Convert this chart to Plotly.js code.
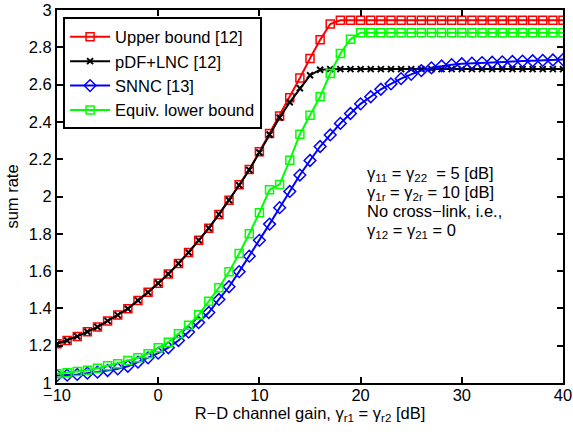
<!DOCTYPE html>
<html>
<head>
<meta charset="utf-8">
<script src="https://cdn.plot.ly/plotly-3.0.1.min.js"></script>
<style>html,body{margin:0;padding:0;background:#fff;}#chart{width:573px;height:432px;}</style>
</head>
<body>
<div id="chart"></div>
<script>
const gain = [-10,-9,-8,-7,-6,-5,-4,-3,-2,-1,0,1,2,3,4,5,6,7,8,9,10,11,12,13,14,15,16,17,18,19,20,21,22,23,24,25,26,27,28,29,30,31,32,33,34,35,36,37,38,39,40];

const upperBound = [1.21,1.228,1.25,1.275,1.30,1.333,1.364,1.398,1.443,1.486,1.535,1.584,1.641,1.70,1.765,1.83,1.904,1.98,2.063,2.145,2.24,2.338,2.432,2.53,2.635,2.74,2.84,2.925,2.945,2.945,2.945,2.945,2.945,2.945,2.945,2.945,2.945,2.945,2.945,2.945,2.945,2.945,2.945,2.945,2.945,2.945,2.945,2.945,2.945,2.945,2.945];

const pdfLnc = [1.21,1.228,1.25,1.275,1.30,1.333,1.364,1.398,1.443,1.486,1.535,1.584,1.641,1.70,1.765,1.83,1.904,1.98,2.06,2.142,2.236,2.332,2.423,2.505,2.58,2.65,2.68,2.683,2.683,2.683,2.683,2.683,2.683,2.683,2.683,2.683,2.683,2.683,2.683,2.683,2.683,2.683,2.683,2.683,2.683,2.683,2.683,2.683,2.683,2.683,2.683];

const snnc = [1.04,1.042,1.046,1.053,1.058,1.067,1.076,1.09,1.112,1.135,1.16,1.189,1.228,1.273,1.324,1.378,1.448,1.516,1.597,1.68,1.765,1.852,1.94,2.027,2.115,2.193,2.268,2.33,2.392,2.445,2.497,2.535,2.575,2.604,2.632,2.655,2.675,2.69,2.70,2.707,2.712,2.715,2.718,2.72,2.722,2.724,2.726,2.728,2.73,2.732,2.734];

const lowerBound = [1.049,1.055,1.062,1.068,1.079,1.092,1.103,1.12,1.135,1.157,1.189,1.219,1.264,1.309,1.366,1.438,1.511,1.597,1.694,1.80,1.913,2.036,2.065,2.195,2.334,2.436,2.535,2.66,2.767,2.843,2.878,2.878,2.878,2.878,2.878,2.878,2.878,2.878,2.878,2.878,2.878,2.878,2.878,2.878,2.878,2.878,2.878,2.878,2.878,2.878,2.878];

const seriesNames = ['Upper bound [12]','pDF+LNC [12]','SNNC [13]','Equiv. lower bound'];
const yTicks = [1,1.2,1.4,1.6,1.8,2,2.2,2.4,2.6,2.8,3];
const xTicks = [-10,0,10,20,30,40];

const FONT = 'Liberation Sans, Arial, Helvetica, sans-serif';
const FS = 16.5;

const traces = [
  {x: gain, y: upperBound, name: seriesNames[0], mode: 'lines+markers',
   line: {color: '#ff0000', width: 2},
   marker: {symbol: 'square-open', size: 8, color: '#ff0000', line: {width: 1.5}}},
  {x: gain, y: pdfLnc, name: seriesNames[1], mode: 'lines+markers',
   line: {color: '#000000', width: 2},
   marker: {symbol: 'x-thin-open', size: 6, color: '#000000', line: {width: 2, color: '#000000'}}},
  {x: gain, y: snnc, name: seriesNames[2], mode: 'lines+markers',
   line: {color: '#0000ff', width: 2},
   marker: {symbol: 'diamond-open', size: 9, color: '#0000ff', line: {width: 1.5}}},
  {x: gain, y: lowerBound, name: seriesNames[3], mode: 'lines+markers',
   line: {color: '#00ff00', width: 2},
   marker: {symbol: 'square-open', size: 8, color: '#00ff00', line: {width: 1.5}}}
];

const annFont = {family: FONT, size: FS, color: '#000'};
const ax = (365-57)/506;
const layout = {
  width: 573, height: 432,
  margin: {l: 57, r: 10, t: 10, b: 49, pad: 0},
  paper_bgcolor: '#fff', plot_bgcolor: '#fff',
  font: {family: FONT, size: FS, color: '#000'},
  showlegend: true,
  legend: {x: 0.012, y: 0.98, xanchor: 'left', yanchor: 'top',
           bgcolor: '#fff', bordercolor: '#000', borderwidth: 2,
           font: {family: FONT, size: FS, color: '#000'},
           tracegroupgap: 0, itemwidth: 40},
  xaxis: {range: [-10, 40], tickvals: xTicks, showgrid: false, zeroline: false,
          showline: true, linecolor: '#000', linewidth: 2, mirror: 'ticks',
          ticks: 'inside', ticklen: 6, tickwidth: 1.5, tickcolor: '#000',
          ticklabelstandoff: -4,
          tickfont: {family: FONT, size: FS},
          title: {text: 'R\u2212D channel gain, \u03b3<sub>r1</sub> = \u03b3<sub>r2</sub> [dB]', font: {family: FONT, size: FS}, standoff: 2}},
  yaxis: {range: [1, 3], tickvals: yTicks, showgrid: false, zeroline: false,
          showline: true, linecolor: '#000', linewidth: 2, mirror: 'ticks',
          ticks: 'inside', ticklen: 6, tickwidth: 1.5, tickcolor: '#000',
          tickfont: {family: FONT, size: FS},
          title: {text: 'sum rate', font: {family: FONT, size: FS}, standoff: 6}},
  annotations: [
    {xref: 'paper', yref: 'paper', x: ax, y: (382.5-174)/372.5, xanchor: 'left', yanchor: 'middle', showarrow: false, font: annFont,
     text: '\u03b3<sub>11</sub> = \u03b3<sub>22</sub>  = 5 [dB]'},
    {xref: 'paper', yref: 'paper', x: ax, y: (382.5-193)/372.5, xanchor: 'left', yanchor: 'middle', showarrow: false, font: annFont,
     text: '\u03b3<sub>1r</sub> = \u03b3<sub>2r</sub> = 10 [dB]'},
    {xref: 'paper', yref: 'paper', x: ax, y: (382.5-211)/372.5, xanchor: 'left', yanchor: 'middle', showarrow: false, font: annFont,
     text: 'No cross\u2212link, i.e.,'},
    {xref: 'paper', yref: 'paper', x: ax, y: (382.5-231)/372.5, xanchor: 'left', yanchor: 'middle', showarrow: false, font: annFont,
     text: '\u03b3<sub>12</sub> = \u03b3<sub>21</sub> = 0'}
  ]
};

Plotly.newPlot('chart', traces, layout, {displayModeBar: false});
</script>
</body>
</html>
